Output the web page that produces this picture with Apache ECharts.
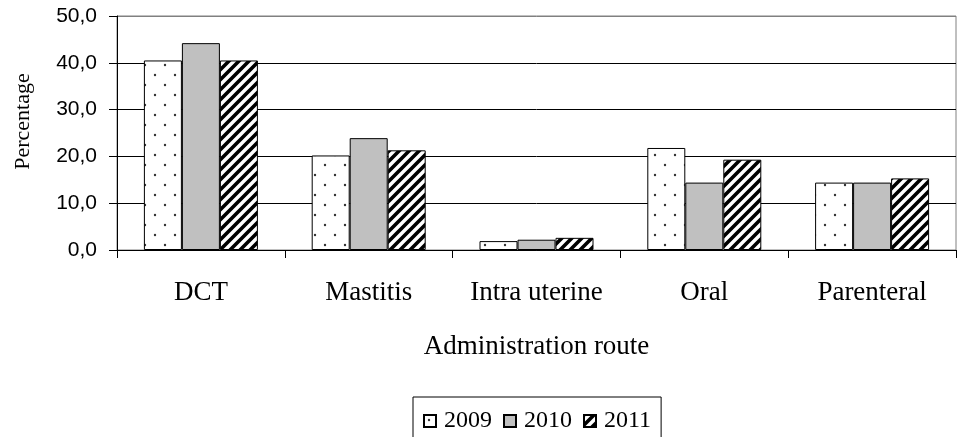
<!DOCTYPE html>
<html>
<head>
<meta charset="utf-8">
<script src="https://cdn.jsdelivr.net/npm/echarts@6/dist/echarts.min.js"></script>
<style>
  html, body { margin: 0; padding: 0; background: #fff; }
  #chart { width: 957px; height: 437px; }
</style>
</head>
<body>
<div id="chart"></div>
<script>
// data
const routes = ['DCT', 'Mastitis', 'Intra uterine', 'Oral', 'Parenteral'];
const years = ['2009', '2010', '2011'];
const v2009 = [40.5, 20.2, 1.9, 21.8, 14.4];
const v2010 = [44.2, 23.9, 2.2, 14.4, 14.4];
const v2011 = [40.5, 21.3, 2.6, 19.3, 15.3];
const yTicks = [0, 10, 20, 30, 40, 50];

// fill patterns
function dotPattern() {
  const c = document.createElement('canvas');
  c.width = 20; c.height = 20;
  const ctx = c.getContext('2d');
  ctx.fillStyle = '#fff';
  ctx.fillRect(0, 0, 20, 20);
  ctx.fillStyle = '#333';
  ctx.beginPath(); ctx.arc(5, 5, 1.2, 0, Math.PI * 2); ctx.fill();
  ctx.beginPath(); ctx.arc(15, 15, 1.2, 0, Math.PI * 2); ctx.fill();
  return c;
}
function stripePattern() {
  const c = document.createElement('canvas');
  c.width = 10; c.height = 10;
  const ctx = c.getContext('2d');
  ctx.fillStyle = '#fff';
  ctx.fillRect(0, 0, 10, 10);
  ctx.strokeStyle = '#000';
  ctx.lineWidth = 3.6;
  ctx.beginPath();
  ctx.moveTo(-5, 5); ctx.lineTo(5, -5);
  ctx.moveTo(0, 10); ctx.lineTo(10, 0);
  ctx.moveTo(5, 15); ctx.lineTo(15, 5);
  ctx.stroke();
  return c;
}

const fills = [
  { image: dotPattern(), repeat: 'repeat' },
  '#c0c0c0',
  { image: stripePattern(), repeat: 'repeat' }
];
const values = [v2009, v2010, v2011];

const serif = 'Liberation Serif';
const chart = echarts.init(document.getElementById('chart'));

chart.setOption({
  animation: false,
  backgroundColor: '#fff',
  grid: {
    left: 117, right: 1, top: 16, bottom: 187,
    show: true, borderColor: '#808080', borderWidth: 1
  },
  legend: {
    data: years,
    top: 397,
    left: 413,
    orient: 'horizontal',
    icon: 'rect',
    itemWidth: 12,
    itemHeight: 12,
    itemGap: 11,
    padding: [12, 10, 20, 10],
    borderColor: '#000',
    borderWidth: 1,
    textStyle: { fontFamily: serif, fontSize: 24, color: '#000', padding: [0, 0, 0, 3] }
  },
  xAxis: {
    type: 'category',
    data: routes,
    name: 'Administration route',
    nameLocation: 'middle',
    nameGap: 83,
    nameTextStyle: { fontFamily: serif, fontSize: 27, color: '#000' },
    axisLine: { lineStyle: { color: '#000', width: 1 } },
    axisTick: { show: true, interval: 0, length: 8, lineStyle: { color: '#000' } },
    axisLabel: { interval: 0, margin: 29, fontFamily: serif, fontSize: 27, color: '#000' }
  },
  yAxis: {
    type: 'value',
    min: yTicks[0],
    max: yTicks[yTicks.length - 1],
    interval: 10,
    name: 'Percentage',
    nameLocation: 'middle',
    nameGap: 83,
    nameTextStyle: { fontFamily: serif, fontSize: 22, color: '#000', padding: [0, 0, 0, 23] },
    axisLine: { show: true, lineStyle: { color: '#000', width: 1 } },
    axisTick: { show: true, length: 8, lineStyle: { color: '#000' } },
    axisLabel: {
      margin: 20,
      fontFamily: 'Liberation Sans',
      fontSize: 21,
      color: '#000',
      formatter: v => v.toFixed(1).replace('.', ',')
    },
    splitLine: {
      show: true,
      lineStyle: { color: ['#000', '#000', '#000', '#000', '#000', '#808080'], width: 1 }
    }
  },
  series: years.map((y, i) => ({
    name: y,
    type: 'bar',
    data: values[i],
    barWidth: 38,
    barGap: '0%',
    itemStyle: { color: fills[i], borderColor: '#000', borderWidth: 1 }
  }))
});
</script>
</body>
</html>
